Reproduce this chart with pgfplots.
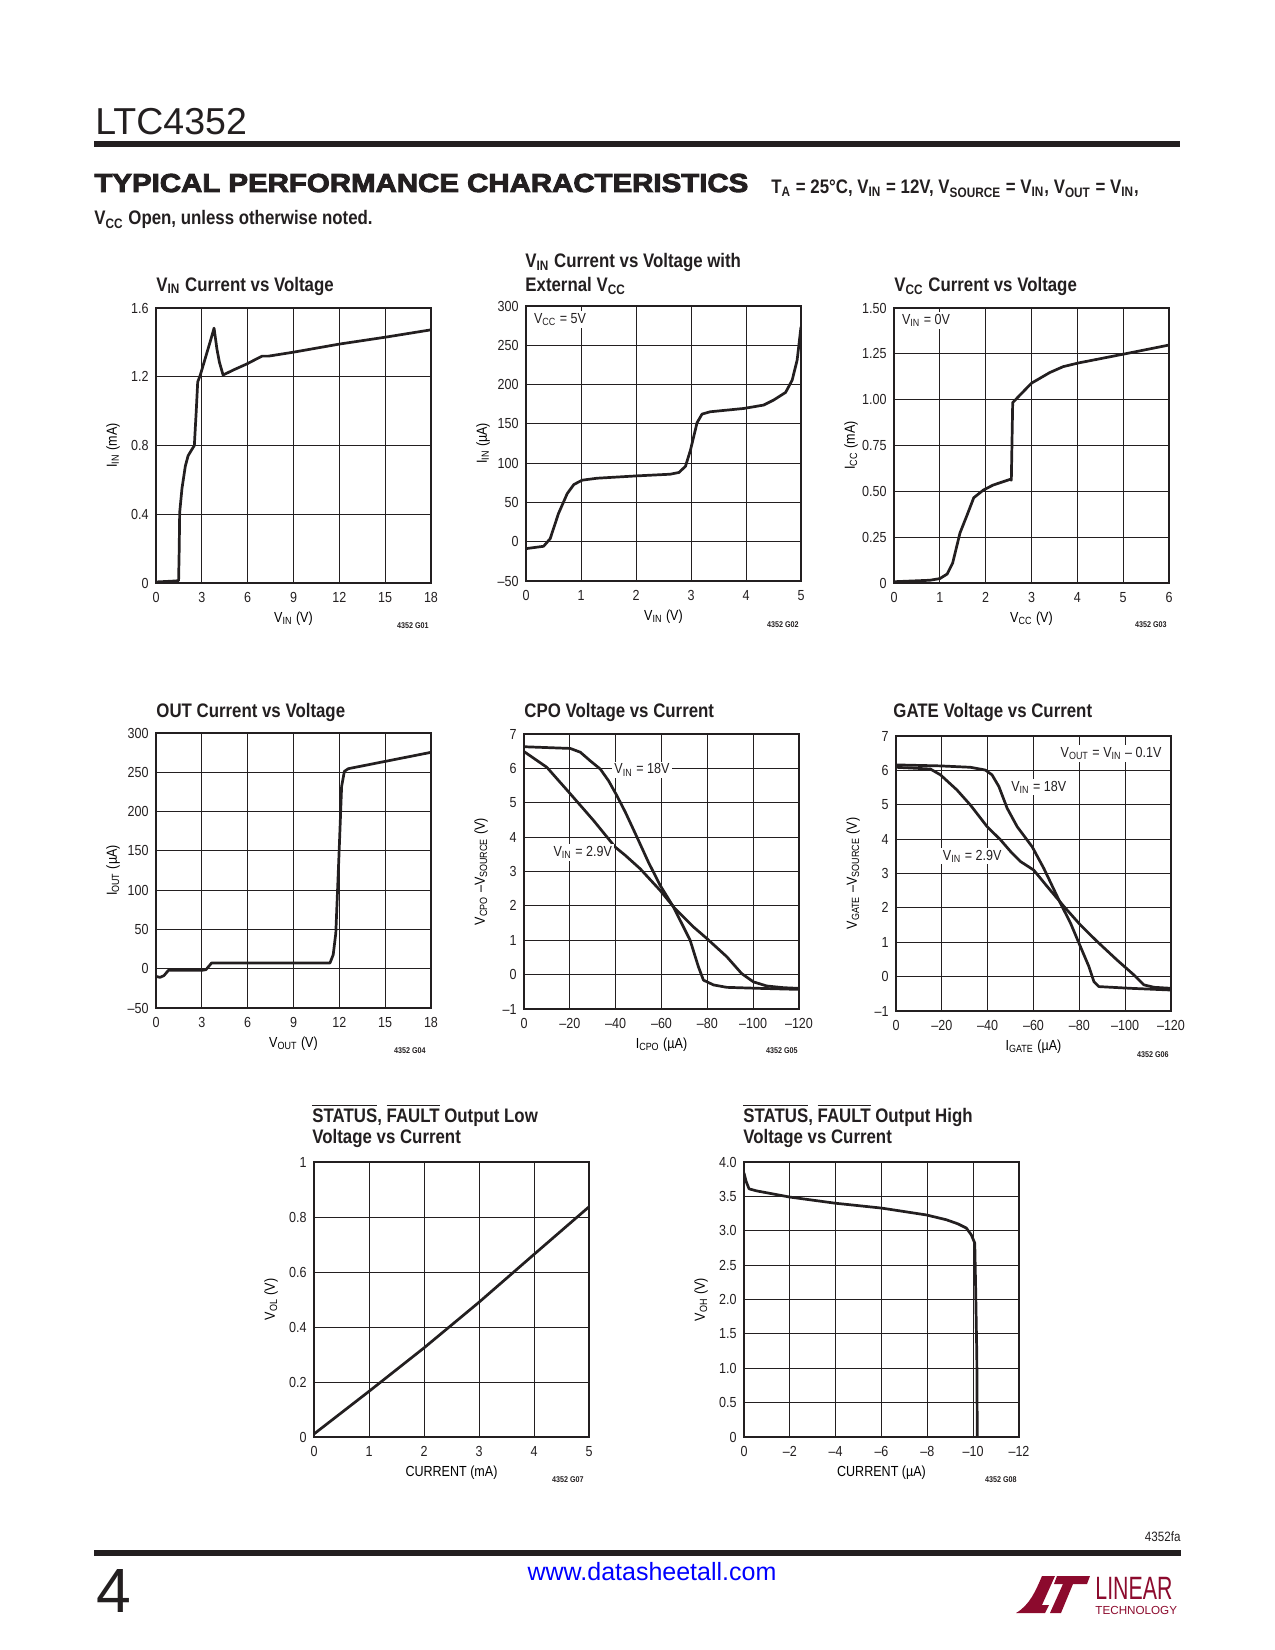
\documentclass[border=0pt]{standalone}
\usepackage{fontspec}
\setmainfont{Liberation Sans}[FakeStretch=0.86]
\newfontfamily\plainfont{Liberation Sans}
\newfontfamily\headfont{Liberation Sans}[FakeStretch=1.13,FakeBold=3.5]
\newfontfamily\logofont{Liberation Sans}[FakeStretch=0.66]
\usepackage{pgfplots}
\pgfplotsset{compat=1.18}
\definecolor{ink}{RGB}{35,31,32}
\definecolor{ltred}{RGB}{140,10,45}
\newcommand\tf{\fontsize{7}{8}\selectfont}
\newcommand\ttl{\bfseries\fontsize{9.4}{11}\selectfont}
\newcommand\sub[1]{\textsubscript{#1}}
\pgfplotscreateplotcyclelist{ltccycle}{ink,mark=none\\ink,mark=none\\}
\pgfplotsset{
  ltc/.style={
    scale only axis, width=132pt, height=132pt, anchor=south west,
    axis line style={line width=0.8pt, ink},
    grid=major,
    major grid style={line width=0.45pt, ink},
    major tick length=0pt,
    tick style={draw=none},
    tick label style={font=\tf, inner sep=0pt, text=ink},
    xticklabel style={anchor=base, yshift=-9.3pt},
    yticklabel style={anchor=east, xshift=-3.4pt},
    xlabel style={font=\tf, at={(axis description cs:0.5,-0.1433)}, anchor=base, inner sep=0pt},
    ylabel style={font=\tf, at={(axis description cs:-0.1564,0.5)}, anchor=center, inner sep=0pt},
    cycle list name=ltccycle,
    every axis plot/.append style={line width=1.3pt, line join=round},
  },
}
\tikzset{
  figid/.style={anchor=base east, font=\bfseries\fontsize{4}{4.5}\selectfont, inner sep=0pt, text=ink},
  anno/.style={font=\tf, inner sep=1pt, fill=white, text=ink},
}
\begin{document}
\begin{tikzpicture}
\path[use as bounding box] (0,0) rectangle (612pt,-792pt);

% ---------- Chart 1 ----------
\begin{axis}[ltc, at={({156*0.48pt},{-583*0.48pt})},
  xmin=0, xmax=18, ymin=0, ymax=1.6,
  xtick={0,3,6,9,12,15,18}, xticklabels={0,3,6,9,12,15,18},
  ytick={0,0.4,0.8,1.2,1.6}, yticklabels={0,0.4,0.8,1.2,1.6},
  xlabel={V\sub{IN} (V)}, ylabel={I\sub{IN} (mA)}]
\addplot coordinates {(0,0.006) (1.3,0.012) (1.48,0.014) (1.52,0.2) (1.55,0.41) (1.7,0.55) (1.92,0.68) (2.1,0.74) (2.3,0.77) (2.51,0.8) (2.64,1.01) (2.73,1.17) (2.9,1.21) (3.3,1.33) (3.6,1.42) (3.8,1.483) (3.99,1.36) (4.15,1.285) (4.39,1.21) (5.08,1.24) (5.96,1.275) (6.5,1.30) (6.94,1.32) (7.37,1.32) (9.0,1.343) (12,1.39) (15,1.43) (18,1.473)};
\end{axis}

% ---------- Chart 2 ----------
\begin{axis}[ltc, at={({526*0.48pt},{-581*0.48pt})},
  xmin=0, xmax=5, ymin=-50, ymax=300,
  xtick={0,1,2,3,4,5}, xticklabels={0,1,2,3,4,5},
  ytick={-50,0,50,100,150,200,250,300}, yticklabels={–50,0,50,100,150,200,250,300},
  xlabel={V\sub{IN} (V)}, ylabel={I\sub{IN} (µA)}]
\addplot coordinates {(0,-8.8) (0.32,-5.8) (0.44,3.9) (0.59,35.8) (0.75,61.3) (0.87,72.8) (1.02,78.3) (1.29,80.8) (2.02,83.8) (2.62,85.9) (2.78,88.1) (2.9,96) (2.99,116.5) (3.11,151.4) (3.2,162.4) (3.35,165.4) (3.96,169.6) (4.32,173.9) (4.5,180.2) (4.72,190) (4.84,205.7) (4.93,231.2) (5.0,273.7)};
\node[anno, anchor=base west] at (axis cs:0.1,278) {V\sub{CC} = 5V};
\end{axis}

% ---------- Chart 3 ----------
\begin{axis}[ltc, at={({894*0.48pt},{-583*0.48pt})},
  xmin=0, xmax=6, ymin=0, ymax=1.5,
  xtick={0,1,2,3,4,5,6}, xticklabels={0,1,2,3,4,5,6},
  ytick={0,0.25,0.5,0.75,1,1.25,1.5}, yticklabels={0,0.25,0.50,0.75,1.00,1.25,1.50},
  xlabel={V\sub{CC} (V)}, ylabel={I\sub{CC} (mA)}]
\addplot coordinates {(0,0.007) (0.78,0.015) (1.0,0.024) (1.16,0.049) (1.28,0.109) (1.44,0.273) (1.6,0.374) (1.74,0.465) (1.95,0.507) (2.16,0.534) (2.53,0.565) (2.56,0.561) (2.59,0.984) (3.0,1.09) (3.4,1.148) (3.69,1.18) (4.02,1.2) (5.0,1.248) (6.0,1.298)};
\node[anno, anchor=base west] at (axis cs:0.12,1.41) {V\sub{IN} = 0V};
\end{axis}

% ---------- Chart 4 ----------
\begin{axis}[ltc, at={({156*0.48pt},{-1008*0.48pt})},
  xmin=0, xmax=18, ymin=-50, ymax=300,
  xtick={0,3,6,9,12,15,18}, xticklabels={0,3,6,9,12,15,18},
  ytick={-50,0,50,100,150,200,250,300}, yticklabels={–50,0,50,100,150,200,250,300},
  xlabel={V\sub{OUT} (V)}, ylabel={I\sub{OUT} (µA)}]
\addplot coordinates {(0,-9.7) (0.26,-11) (0.52,-8.8) (0.81,-2.1) (2.99,-2.1) (3.27,-1.2) (3.64,7.3) (11.39,7.3) (11.6,17.9) (11.77,45.4) (12.0,155.8) (12.15,232) (12.33,251.2) (12.59,254.6) (18,275.4)};
\end{axis}

% ---------- Chart 5 ----------
\begin{axis}[ltc, at={({524*0.48pt},{-1009*0.48pt})},
  x dir=reverse, xmin=-120, xmax=0, ymin=-1, ymax=7,
  xtick={0,-20,-40,-60,-80,-100,-120}, xticklabels={0,–20,–40,–60,–80,–100,–120},
  ytick={-1,0,1,2,3,4,5,6,7}, yticklabels={–1,0,1,2,3,4,5,6,7},
  xlabel={I\sub{CPO} (µA)}, ylabel={V\sub{CPO} –V\sub{SOURCE} (V)}]
\addplot coordinates {(0,6.63) (-20.2,6.58) (-24.6,6.47) (-28.9,6.22) (-33.3,5.98) (-36.9,5.64) (-40.5,5.21) (-44.2,4.73) (-49.3,4.0) (-54.3,3.27) (-59.4,2.6) (-65.2,1.97) (-72.5,1.0) (-76.1,0.23) (-78.3,-0.16) (-82.7,-0.30) (-88.5,-0.37) (-103,-0.40) (-120,-0.43)};
\addplot coordinates {(0,6.49) (-10,6.03) (-20.2,5.26) (-30.4,4.48) (-39.8,3.71) (-44.2,3.47) (-50.7,3.08) (-59.4,2.45) (-65.9,1.92) (-73.9,1.39) (-79.8,1.05) (-88.5,0.52) (-95,0.03) (-100.1,-0.21) (-105.9,-0.33) (-113.3,-0.38) (-120,-0.40)};
\node[anno, anchor=base west] at (axis cs:-38.4,5.84) {V\sub{IN} = 18V};
\node[anno, anchor=base west] at (axis cs:-11.8,3.44) {V\sub{IN} = 2.9V};
\end{axis}

% ---------- Chart 6 ----------
\begin{axis}[ltc, at={({896*0.48pt},{-1011*0.48pt})},
  x dir=reverse, xmin=-120, xmax=0, ymin=-1, ymax=7,
  xtick={0,-20,-40,-60,-80,-100,-120}, xticklabels={0,–20,–40,–60,–80,–100,–120},
  ytick={-1,0,1,2,3,4,5,6,7}, yticklabels={–1,0,1,2,3,4,5,6,7},
  xlabel={I\sub{GATE} (µA)}, ylabel={V\sub{GATE} –V\sub{SOURCE} (V)}]
\addplot coordinates {(0,6.16) (-19.4,6.13) (-32.5,6.09) (-39,6.01) (-41.9,5.87) (-44.9,5.53) (-48.5,4.9) (-52.9,4.36) (-59.4,3.78) (-64.5,3.15) (-71.8,2.13) (-76.2,1.55) (-80.5,0.87) (-84.2,0.29) (-86.4,-0.15) (-88.5,-0.29) (-102.4,-0.34) (-120,-0.39)};
\addplot coordinates {(0,6.09) (-15,6.04) (-19.4,5.87) (-26.6,5.43) (-32.5,4.99) (-39.8,4.36) (-45.6,3.98) (-50,3.64) (-54.3,3.35) (-60.1,3.1) (-66,2.62) (-73.3,2.04) (-80.5,1.5) (-87.8,1.02) (-96.5,0.48) (-103.8,0.05) (-108.2,-0.24) (-112.6,-0.31) (-120,-0.34)};
\node[anno, anchor=base east] at (axis cs:-116.9,6.38) {V\sub{OUT} = V\sub{IN} – 0.1V};
\node[anno, anchor=base west] at (axis cs:-49.2,5.40) {V\sub{IN} = 18V};
\node[anno, anchor=base west] at (axis cs:-19.4,3.39) {V\sub{IN} = 2.9V};
\end{axis}

% ---------- Chart 7 ----------
\begin{axis}[ltc, at={({314*0.48pt},{-1437*0.48pt})},
  xmin=0, xmax=5, ymin=0, ymax=1,
  xtick={0,1,2,3,4,5}, xticklabels={0,1,2,3,4,5},
  ytick={0,0.2,0.4,0.6,0.8,1}, yticklabels={0,0.2,0.4,0.6,0.8,1},
  xlabel={CURRENT (mA)}, ylabel={V\sub{OL} (V)}]
\addplot coordinates {(0,0.011) (1,0.166) (2,0.324) (3,0.49) (4,0.664) (5,0.837)};
\end{axis}

% ---------- Chart 8 ----------
\begin{axis}[ltc, at={({744*0.48pt},{-1437*0.48pt})},
  x dir=reverse, xmin=-12, xmax=0, ymin=0, ymax=4,
  xtick={0,-2,-4,-6,-8,-10,-12}, xticklabels={0,–2,–4,–6,–8,–10,–12},
  ytick={0,0.5,1,1.5,2,2.5,3,3.5,4}, yticklabels={0,0.5,1.0,1.5,2.0,2.5,3.0,3.5,4.0},
  xlabel={CURRENT (µA)}, ylabel={V\sub{OH} (V)}]
\addplot coordinates {(0,3.84) (-0.09,3.72) (-0.22,3.61) (-0.55,3.58) (-2.0,3.49) (-4.0,3.40) (-6.0,3.33) (-7.96,3.23) (-8.83,3.16) (-9.34,3.10) (-9.7,3.04) (-9.92,2.94) (-10.07,2.82) (-10.11,2.14) (-10.16,1.17) (-10.18,0)};
\end{axis}

% ---------- page decorations (pixel units) ----------
\begin{scope}[x=0.48pt, y=-0.48pt]
  \node[anchor=base west, inner sep=0pt, text=ink] at (95,135) {\plainfont\fontsize{18}{20}\selectfont LTC4352};
  \fill[ink] (94,141) rectangle (1180,147);
  \node[anchor=base west, inner sep=0pt, text=ink] at (94,192) {\headfont\bfseries\fontsize{12.5}{14}\selectfont TYPICAL PERFORMANCE CHARACTERISTICS};
  \node[anchor=base west, inner sep=0pt, text=ink] at (771,194) {\ttl T\sub{A} = 25°C, V\sub{IN} = 12V, V\sub{SOURCE} = V\sub{IN}, V\sub{OUT} = V\sub{IN},};
  \node[anchor=base west, inner sep=0pt, text=ink] at (94,225) {\ttl V\sub{CC} Open, unless otherwise noted.};

  % chart titles
  \node[anchor=base west, inner sep=0pt, text=ink] at (156,291) {\ttl V\sub{IN} Current vs Voltage};
  \node[anchor=base west, inner sep=0pt, text=ink] at (525,268) {\ttl V\sub{IN} Current vs Voltage with};
  \node[anchor=base west, inner sep=0pt, text=ink] at (525,291) {\ttl External V\sub{CC}};
  \node[anchor=base west, inner sep=0pt, text=ink] at (894,291) {\ttl V\sub{CC} Current vs Voltage};
  \node[anchor=base west, inner sep=0pt, text=ink] at (156,717) {\ttl OUT Current vs Voltage};
  \node[anchor=base west, inner sep=0pt, text=ink] at (524,717) {\ttl CPO Voltage vs Current};
  \node[anchor=base west, inner sep=0pt, text=ink] at (893,717) {\ttl GATE Voltage vs Current};
  \node[anchor=base west, inner sep=0pt, text=ink] at (312,1122) {\ttl $\overline{\mbox{STATUS}}$, $\overline{\mbox{FAULT}}$ Output Low};
  \node[anchor=base west, inner sep=0pt, text=ink] at (312,1143) {\ttl Voltage vs Current};
  \node[anchor=base west, inner sep=0pt, text=ink] at (743,1122) {\ttl $\overline{\mbox{STATUS}}$, $\overline{\mbox{FAULT}}$ Output High};
  \node[anchor=base west, inner sep=0pt, text=ink] at (743,1143) {\ttl Voltage vs Current};

  % figure ids
  \node[figid] at (429,628) {4352 G01};
  \node[figid] at (799,627) {4352 G02};
  \node[figid] at (1167,627) {4352 G03};
  \node[figid] at (426,1053) {4352 G04};
  \node[figid] at (798,1053) {4352 G05};
  \node[figid] at (1169,1057) {4352 G06};
  \node[figid] at (584,1482) {4352 G07};
  \node[figid] at (1017,1482) {4352 G08};

  % footer
  \node[anchor=base east, inner sep=0pt, text=ink] at (1181,1541) {\fontsize{6.5}{7}\selectfont 4352fa};
  \fill[ink] (94,1550) rectangle (1181,1556);
  \node[anchor=base west, inner sep=0pt, text=ink] at (96,1612) {\plainfont\fontsize{30}{32}\selectfont 4};
  \node[anchor=base, inner sep=0pt, text=blue] at (652,1580) {\plainfont\fontsize{12}{14}\selectfont www.datasheetall.com};
  % logo
  \fill[ltred] (1016,1613) .. controls (1030,1605) and (1036,1590) .. (1042,1576) -- (1055,1576) -- (1042,1605) -- (1049,1605) -- (1045,1613) -- cycle;
  \fill[ltred] (1057,1576) -- (1090,1576) -- (1087,1584) -- (1073,1584) -- (1061,1613) -- (1050,1613) -- (1063,1584) -- (1054,1584) -- cycle;
  \node[anchor=base west, inner sep=0pt, text=ltred] at (1095,1599) {\logofont\fontsize{15.5}{16}\selectfont LINEAR};
  \node[anchor=base west, inner sep=0pt, text=ltred] at (1095,1614) {\plainfont\fontsize{5.6}{6}\selectfont TECHNOLOGY};
\end{scope}
\end{tikzpicture}
\end{document}
